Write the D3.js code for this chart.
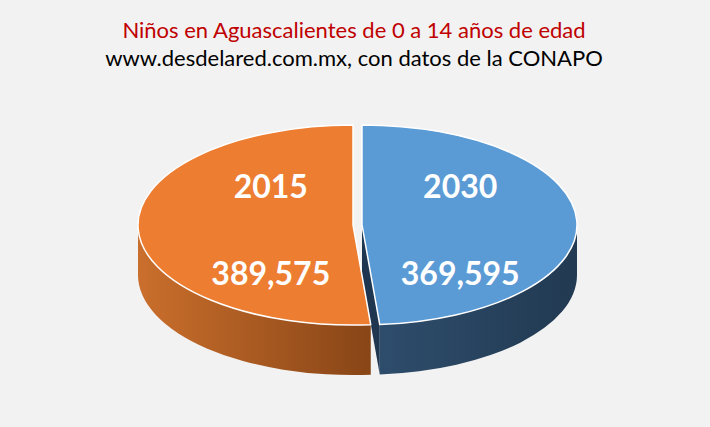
<!DOCTYPE html>
<html lang="es">

<head>
    <meta charset="UTF-8">
    <title>Niños en Aguascalientes</title>
    <style>
        * {
            margin: 0;
            padding: 0;
        }

        html,
        body {
            overflow: hidden;
            background: #f2f2f2;
        }
    </style>
</head>

<body>
    <div id="chart"></div>
    <script src="https://cdn.jsdelivr.net/npm/d3@7"></script>
    <script>
        // datos (orden del pastel, empezando arriba en sentido horario)
        const years = ['2030', '2015']
        const values = [369595, 389575]
        const valueLabels = ['369,595', '389,575']

        const topColors = ['#5b9bd5', '#ed7d31']
        const sideColors = [['#2e4d6c', '#223a52'], ['#c96e2c', '#864416']]
        const wallColors = ['#1f3650', '#8a4519']

        function drawChart() {
            const width = 710
            const height = 427
            const svg = d3.select('#chart')
                .append('svg')
                .attr('width', width)
                .attr('height', height)
                .style('background', '#f2f2f2')

            svg.append('text')
                .attr('x', 354)
                .attr('y', 38)
                .attr('text-anchor', 'middle')
                .style('font-family', 'Lato, "Open Sans", sans-serif')
                .style('font-size', '22px')
                .attr('fill', '#c00000')
                .text('Niños en Aguascalientes de 0 a 14 años de edad')

            svg.append('text')
                .attr('x', 354)
                .attr('y', 66)
                .attr('text-anchor', 'middle')
                .style('font-family', 'Lato, "Open Sans", sans-serif')
                .style('font-size', '22px')
                .attr('fill', '#000')
                .text('www.desdelared.com.mx, con datos de la CONAPO')

            const cx = 357.5
            const cy = 225
            const rx = 215
            const ry = 100
            const depth = 50
            const explode = 4.5

            const pie = d3.pie().sort(null)
            const arcs = pie(values)

            // proyeccion del angulo (horario desde arriba) sobre la elipse
            const pt = (a, ox, oy, dz = 0) => [ox + rx * Math.sin(a), oy - ry * Math.cos(a) + dz]

            const defs = svg.append('defs')
            sideColors.forEach((c, i) => {
                const g = defs.append('linearGradient')
                    .attr('id', 'side' + i)
                    .attr('gradientUnits', 'userSpaceOnUse')
                    .attr('x1', i === 0 ? cx + 20 : cx - rx)
                    .attr('x2', i === 0 ? cx + rx : cx + 20)
                    .attr('y1', 0).attr('y2', 0)
                g.append('stop').attr('offset', 0).attr('stop-color', c[0])
                g.append('stop').attr('offset', 1).attr('stop-color', c[1])
            })

            const slices = arcs.map((d, i) => {
                const mid = (d.startAngle + d.endAngle) / 2
                return {
                    d, i,
                    ox: cx + explode * Math.sin(mid),
                    oy: cy - explode * Math.cos(mid) * ry / rx,
                    mid
                }
            })

            // paredes radiales
            slices.forEach(s => {
                const a = s.d.endAngle
                if (Math.cos(a) < 0 && Math.sin(a) > 0) {
                    const p = pt(a, s.ox, s.oy)
                    svg.append('path')
                        .attr('d', `M${s.ox},${s.oy}L${p[0]},${p[1]}L${p[0]},${p[1] + depth}L${s.ox},${s.oy + depth}Z`)
                        .attr('fill', wallColors[s.i])
                }
            })

            // paredes exteriores (solo la parte frontal)
            slices.forEach(s => {
                const a0 = Math.max(s.d.startAngle, Math.PI / 2)
                const a1 = Math.min(s.d.endAngle, Math.PI * 1.5)
                if (a1 <= a0) return
                const p0 = pt(a0, s.ox, s.oy)
                const p1 = pt(a1, s.ox, s.oy)
                const large = a1 - a0 > Math.PI ? 1 : 0
                svg.append('path')
                    .attr('d', `M${p0[0]},${p0[1]}A${rx},${ry} 0 ${large} 1 ${p1[0]},${p1[1]}` +
                        `L${p1[0]},${p1[1] + depth}A${rx},${ry} 0 ${large} 0 ${p0[0]},${p0[1] + depth}Z`)
                    .attr('fill', `url(#side${s.i})`)
            })

            // caras superiores
            slices.forEach(s => {
                const p0 = pt(s.d.startAngle, s.ox, s.oy)
                const p1 = pt(s.d.endAngle, s.ox, s.oy)
                const large = s.d.endAngle - s.d.startAngle > Math.PI ? 1 : 0
                svg.append('path')
                    .attr('d', `M${s.ox},${s.oy}L${p0[0]},${p0[1]}A${rx},${ry} 0 ${large} 1 ${p1[0]},${p1[1]}Z`)
                    .attr('fill', topColors[s.i])
                    .attr('stroke', '#fff')
                    .attr('stroke-width', 1.5)
                    .attr('stroke-linejoin', 'round')
            })

            // etiquetas
            slices.forEach(s => {
                const lx = s.ox + rx * 0.42 * Math.sin(s.mid) + 8
                const g = svg.append('g')
                    .attr('fill', '#fff')
                    .attr('text-anchor', 'middle')
                    .style('font-family', 'Lato, "Open Sans", sans-serif')
                    .style('font-weight', 'bold')
                    .style('font-size', '32px')
                g.append('text').attr('x', lx).attr('y', cy - 27).text(years[s.i])
                g.append('text').attr('x', lx).attr('y', cy + 60).text(valueLabels[s.i])
            })
        }

        drawChart()
    </script>
</body>

</html>
